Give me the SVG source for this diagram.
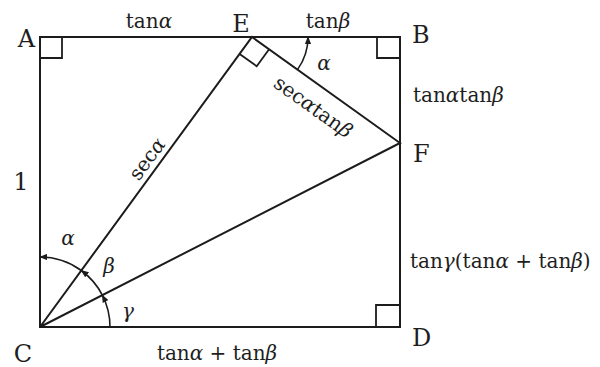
<svg xmlns="http://www.w3.org/2000/svg" width="600" height="367" viewBox="0 0 600 367">
<style>
.ln{fill:none;stroke:#1c1c1c;stroke-width:2;stroke-linejoin:miter}
.ra{fill:none;stroke:#1c1c1c;stroke-width:1.8}
.arc{fill:none;stroke:#1c1c1c;stroke-width:1.6;marker-end:url(#ah)}
.pt{font-family:"DejaVu Serif","Liberation Serif",serif;font-size:24px;fill:#1e1e1e}
.mt{font-family:"DejaVu Serif","Liberation Serif",serif;font-size:20px;fill:#1e1e1e}
.g{font-style:italic}
</style>
<defs>
<marker id="ah" viewBox="0 0 10 8" refX="9" refY="4" markerWidth="8" markerHeight="6.4" markerUnits="userSpaceOnUse" orient="auto">
<path d="M0,0 L10,4 L0,8 Z" fill="#1c1c1c"/>
</marker>
</defs>
<g id="figure">
<rect class="ln" x="40" y="37" width="360" height="290"/>
<path class="ln" d="M40,327 L252,37 L400,143 Z"/>
</g>
<g id="right-angles">
<path class="ra" d="M40,58 H62 V37"/>
<path class="ra" d="M377,37 V58 H400"/>
<path class="ra" d="M376,327 V305 H400"/>
<path class="ra" d="M239.6,54 L256.7,66.2 L269.1,49.2"/>
</g>
<g id="angle-arcs">
<path class="arc" d="M110,327 A70,70 0 0 0 102.33,295.14"/>
<path class="arc" d="M102.33,295.14 A70,70 0 0 0 81.31,270.48"/>
<path class="arc" d="M81.31,270.48 A70,70 0 0 0 40,257"/>
<path class="arc" d="M297.5,69.6 A56,56 0 0 0 308,37"/>
</g>
<g id="point-labels">
<text class="pt" x="26.5" y="47" text-anchor="middle">A</text>
<text class="pt" x="241" y="32" text-anchor="middle">E</text>
<text class="pt" x="412" y="43">B</text>
<text class="pt" x="413" y="162">F</text>
<text class="pt" x="412" y="346">D</text>
<text class="pt" x="23" y="362" text-anchor="middle">C</text>
<text class="pt" x="21" y="190" text-anchor="middle">1</text>
</g>
<g id="length-labels">
<text class="mt" x="149" y="28" text-anchor="middle">tan<tspan class="g">α</tspan></text>
<text class="mt" x="328" y="28" text-anchor="middle">tan<tspan class="g">β</tspan></text>
<text class="mt" x="413" y="102">tan<tspan class="g">α</tspan>tan<tspan class="g">β</tspan></text>
<text class="mt" x="410" y="268">tan<tspan class="g">γ</tspan>(tan<tspan class="g">α</tspan> + tan<tspan class="g">β</tspan>)</text>
<text class="mt" x="217" y="360" text-anchor="middle">tan<tspan class="g">α</tspan> + tan<tspan class="g">β</tspan></text>
<text class="mt" transform="translate(157.4,166.5) rotate(-53.8)" x="0" y="-6" text-anchor="middle">sec<tspan class="g">α</tspan></text>
<text class="mt" transform="translate(325.6,89.7) rotate(35.6)" x="0" y="28" text-anchor="middle">sec<tspan class="g">α</tspan>tan<tspan class="g">β</tspan></text>
</g>
<g id="angle-labels">
<text class="mt g" x="324" y="70" text-anchor="middle">α</text>
<text class="mt g" x="68" y="245" text-anchor="middle">α</text>
<text class="mt g" x="109" y="273" text-anchor="middle">β</text>
<text class="mt g" x="128" y="318" text-anchor="middle">γ</text>
</g>
</svg>
